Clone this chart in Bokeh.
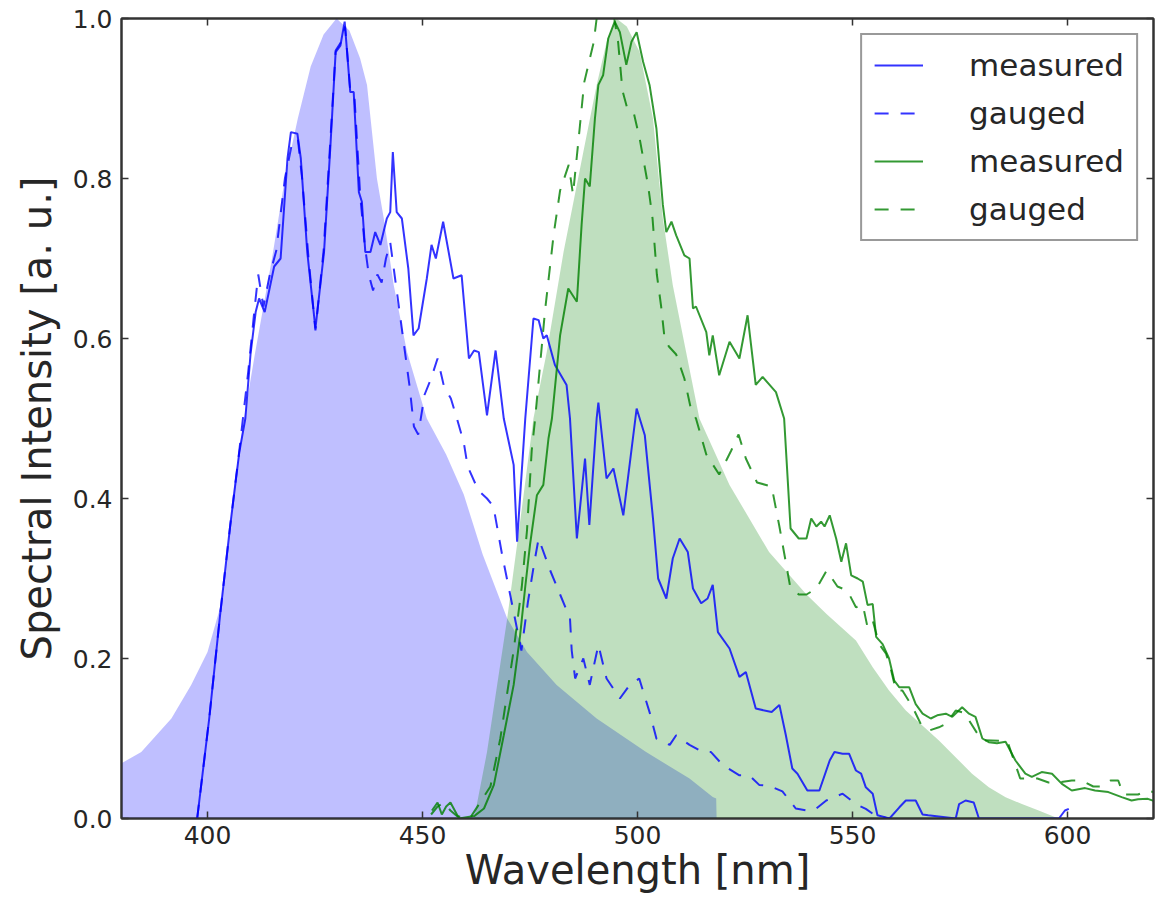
from bokeh.plotting import figure
from bokeh.models import (Range1d, LinearAxis, FixedTicker, Legend, LegendItem,
                          CustomJSTickFormatter)
from bokeh.embed import file_html
from bokeh.resources import INLINE

# ---------------- data ----------------
blue_fill_x = [380, 384.6, 391.6, 396.2, 400, 403.1, 404.7, 406.2, 408.5, 411, 413, 415,
               418, 421, 424, 427, 430, 433, 435.5, 437.1, 439.4, 441, 443.3, 446.4, 451,
               455.5, 459.6, 464, 469.7, 474.3, 481.2, 490.5, 502, 512.1, 517.5, 518.3, 518.4]
blue_fill_y = [0.069, 0.083, 0.125, 0.167, 0.208, 0.267, 0.333, 0.417, 0.5, 0.58, 0.64, 0.7,
               0.8, 0.875, 0.94, 0.98, 1.0, 0.985, 0.95, 0.917, 0.8, 0.75, 0.667, 0.583, 0.5,
               0.455, 0.405, 0.33, 0.25, 0.208, 0.167, 0.125, 0.083, 0.05, 0.027, 0.025, 0.0]

green_fill_x = [462, 465, 469.7, 472.8, 475.8, 478.9, 482.8, 487.4, 490.5, 493, 495.1, 497.5,
                500.5, 503.6, 505.9, 508.2, 511.3, 514.4, 521.4, 530.6, 539.3, 543.9, 550.8,
                554.7, 558.5, 562.4, 570.1, 577.8, 581.7, 585.6, 589.4, 593.3, 597.9]
green_fill_y = [0.0, 0.083, 0.25, 0.375, 0.5, 0.583, 0.708, 0.833, 0.917, 0.975, 1.0, 0.99,
                0.958, 0.875, 0.75, 0.667, 0.583, 0.5, 0.417, 0.333, 0.28, 0.256, 0.2225,
                0.189, 0.16, 0.135, 0.0975, 0.056, 0.039, 0.0267, 0.018, 0.01, 0.0]

blue_meas_x = [397.6, 400.4, 403.0, 405.3, 407.4, 408.8, 410.0, 411.2, 412.0, 413.3, 415.5, 417.0,
               418.6, 419.4, 420.9, 421.7, 423.2, 425.1, 427.1, 428.6, 429.8, 430.9, 431.9, 433.2,
               434.0, 435.2, 435.9, 436.7, 437.9, 439.0, 440.2, 441.7, 442.5, 443.1, 444.0, 445.2,
               446.7, 447.9, 449.1, 451.0, 452.1, 453.1, 454.8, 457.2, 459.1, 460.8, 462.0, 463.1,
               465.0, 467.0, 468.9, 471.2, 472.0, 473.9, 475.8, 477.0, 478.1, 478.9, 480.8, 483.5,
               484.3, 485.9, 487.8, 488.8, 490.5, 490.9, 492.8, 494.4, 496.7, 499.8, 501.7, 503.6,
               504.8, 506.7, 508.2, 509.8, 511.7, 512.9, 514.8, 516.3, 517.5, 518.7, 521.4, 523.7,
               525.2, 527.5, 531.2, 533.0, 534.5, 536.0, 537.2, 539.5, 542.3, 544.7, 545.8, 547.7,
               549.2, 550.8, 552.0, 553.1, 554.7, 555.8, 558.6, 560.9, 562.4, 564.7, 566.3, 567.6,
               574.0, 574.8, 576.3, 578.2, 579.4, 598.0, 599.4, 600.3]
blue_meas_y = [0.0, 0.125, 0.258, 0.367, 0.458, 0.5, 0.58, 0.633, 0.65, 0.633, 0.69, 0.70,
               0.825, 0.858, 0.856, 0.825, 0.708, 0.6125, 0.708, 0.842, 0.958, 0.966, 0.996, 0.908,
               0.908, 0.783, 0.771, 0.708, 0.708, 0.733, 0.717, 0.75, 0.758, 0.833, 0.758, 0.75,
               0.6875, 0.604, 0.6125, 0.675, 0.717, 0.70, 0.746, 0.675, 0.679, 0.575, 0.585, 0.583,
               0.504, 0.585, 0.5, 0.442, 0.346, 0.5, 0.625, 0.623, 0.60, 0.604, 0.567, 0.542,
               0.5, 0.35, 0.45, 0.367, 0.5, 0.52, 0.425, 0.4375, 0.379, 0.5125, 0.479, 0.375,
               0.30, 0.275, 0.325, 0.35, 0.333, 0.2875, 0.269, 0.275, 0.292, 0.233, 0.2125, 0.177,
               0.183, 0.1375, 0.133, 0.142, 0.104, 0.0625, 0.056, 0.035, 0.035, 0.0725, 0.083, 0.081,
               0.081, 0.06, 0.056, 0.039, 0.031, 0.004, 0.0, 0.014, 0.0225, 0.0225, 0.005, 0.004,
               0.0, 0.018, 0.0225, 0.02, 0.0, 0.0, 0.01, 0.012]

blue_gaug_x = [397.6, 400.4, 403.0, 405.3, 407.4, 409.5, 411.0, 411.8, 413.0, 414.5, 416.0, 418.0,
               419.5, 421.0, 422.0, 423.5, 425.1, 427.0, 428.6, 429.8, 431.0, 432.0, 433.2, 434.2,
               435.5, 436.5, 437.5, 438.5, 439.5, 440.5, 441.5, 442.5, 443.5, 444.5, 446.0, 447.0,
               448.0, 449.0, 450.5, 452.0, 453.5, 455.0, 456.6, 458.0, 459.6, 460.5, 463.0, 465.0,
               466.5, 468.5, 470.0, 471.5, 473.0, 474.5, 476.0, 477.0, 479.7, 482.0, 484.3, 484.7,
               485.5, 487.4, 488.9, 490.9, 492.8, 495.9, 498.2, 500.4, 502.8, 504.4, 507.5, 509.0,
               512.1, 515.2, 517.1, 519.8, 523.7, 526.0, 528.3, 530.6, 533.7, 536.8, 539.3, 541.0,
               543.9, 547.7, 550.8, 553.1, 555.5, 558.6]
blue_gaug_y = [0.0, 0.125, 0.258, 0.367, 0.46, 0.56, 0.64, 0.68, 0.64, 0.68, 0.71, 0.80,
               0.84, 0.85, 0.80, 0.70, 0.61, 0.71, 0.85, 0.96, 0.97, 0.99, 0.91, 0.90,
               0.78, 0.72, 0.68, 0.66, 0.68, 0.67, 0.70, 0.72, 0.68, 0.64, 0.58, 0.54,
               0.49, 0.48, 0.53, 0.55, 0.575, 0.54, 0.525, 0.50, 0.47, 0.44, 0.41, 0.40,
               0.39, 0.33, 0.29, 0.25, 0.21, 0.27, 0.32, 0.35, 0.31, 0.28, 0.25, 0.21,
               0.175, 0.20, 0.167, 0.217, 0.175, 0.15, 0.167, 0.175, 0.133, 0.10, 0.092, 0.104,
               0.092, 0.083, 0.083, 0.067, 0.054, 0.054, 0.042, 0.041, 0.034, 0.0125, 0.01, 0.01,
               0.0225, 0.031, 0.018, 0.012, 0.003, 0.0]

green_meas_x = [452.2, 453.5, 454.5, 455.5, 456.5, 457.5, 458.5, 462.0, 464.3, 466.6, 468.9, 471.2,
                472.7, 473.9, 475.0, 476.6, 478.1, 479.3, 480.1, 482.0, 483.9, 485.9, 487.0, 487.8,
                488.9, 490.1, 490.9, 492.0, 493.2, 494.7, 495.9, 497.4, 498.6, 499.8, 501.3, 502.8,
                504.4, 505.9, 506.7, 507.9, 509.0, 510.9, 512.1, 512.9, 513.6, 516.0, 516.7, 517.5,
                519.0, 521.4, 523.7, 525.6, 527.5, 529.1, 532.2, 534.1, 535.6, 537.5, 539.3, 540.4,
                541.6, 542.7, 543.5, 544.7, 546.2, 547.4, 548.5, 549.7, 551.2, 552.4, 553.5, 554.7,
                555.5, 557.0, 558.5, 559.7, 560.9, 563.2, 564.7, 566.3, 568.2, 569.7, 571.7, 573.2,
                575.5, 577.1, 578.6, 580.2, 581.7, 583.6, 585.6, 587.9, 590.2, 591.7, 594.0, 596.4,
                598.7, 601.0, 604.1, 606.4, 609.5, 612.6, 614.9, 616.4, 618.7, 620.0]
green_meas_y = [0.01, 0.02, 0.005, 0.015, 0.02, 0.01, 0.0, 0.003, 0.0125, 0.042, 0.104, 0.167,
                0.229, 0.29, 0.342, 0.404, 0.417, 0.475, 0.5, 0.604, 0.6625, 0.646, 0.742, 0.8,
                0.79, 0.875, 0.917, 0.929, 0.975, 0.996, 0.983, 0.942, 0.971, 0.983, 0.946, 0.917,
                0.8625, 0.767, 0.733, 0.746, 0.729, 0.704, 0.70, 0.6375, 0.64, 0.608, 0.579, 0.604,
                0.554, 0.596, 0.575, 0.629, 0.542, 0.552, 0.533, 0.50, 0.3625, 0.35, 0.35, 0.375,
                0.365, 0.371, 0.365, 0.379, 0.35, 0.321, 0.344, 0.304, 0.30, 0.296, 0.267, 0.268,
                0.227, 0.218, 0.2, 0.1725, 0.164, 0.164, 0.143, 0.131, 0.125, 0.129, 0.131, 0.127,
                0.139, 0.131, 0.127, 0.10, 0.0954, 0.094, 0.096, 0.0725, 0.056, 0.052, 0.058, 0.056,
                0.0433, 0.035, 0.038, 0.035, 0.033, 0.0267, 0.0225, 0.024, 0.0246, 0.022]

green_gaug_x = [452.0, 453.5, 455.0, 456.5, 458.0, 461.0, 465.8, 468.1, 471.2, 473.1, 474.3, 475.4,
                476.2, 478.5, 480.5, 482.0, 484.0, 485.0, 486.5, 487.6, 489.8, 490.5, 492.0, 494.0,
                495.5, 496.5, 497.5, 499.0, 500.5, 501.5, 502.5, 503.5, 504.5, 505.5, 506.3, 507.3,
                509.0, 510.9, 512.5, 513.6, 516.0, 519.0, 521.8, 523.5, 525.2, 527.8, 531.2, 533.0,
                534.5, 535.5, 537.5, 539.3, 541.6, 544.0, 546.5, 548.8, 550.8, 552.4, 553.5, 554.7,
                556.2, 557.8, 559.0, 560.1, 561.6, 564.0, 565.9, 567.8, 570.1, 571.7, 574.0, 576.0,
                580.0, 586.0, 589.0, 593.0, 595.6, 597.9, 601.0, 603.3, 606.0, 608.0, 610.0, 611.8,
                613.0, 616.4, 618.7, 620.0]
green_gaug_y = [0.005, 0.015, 0.02, 0.01, 0.003, 0.0, 0.04, 0.1, 0.21, 0.29, 0.36, 0.46,
                0.5, 0.635, 0.73, 0.785, 0.817, 0.78, 0.86, 0.92, 0.97, 1.0, 1.02, 1.02,
                0.97, 0.91, 0.89, 0.885, 0.85, 0.82, 0.79, 0.75, 0.68, 0.64, 0.60, 0.59,
                0.58, 0.55, 0.51, 0.50, 0.455, 0.43, 0.46, 0.48, 0.45, 0.42, 0.415, 0.365,
                0.32, 0.29, 0.28, 0.28, 0.2875, 0.31, 0.29, 0.285, 0.264, 0.267, 0.239, 0.2475,
                0.218, 0.206, 0.185, 0.16, 0.16, 0.139, 0.118, 0.11, 0.114, 0.118, 0.135, 0.132,
                0.098, 0.097, 0.05, 0.05, 0.045, 0.045, 0.0475, 0.0475, 0.04, 0.04, 0.0475, 0.0475,
                0.03, 0.03, 0.035, 0.033]

x_ticks = [400, 450, 500, 550, 600]
y_ticks = [0.0, 0.2, 0.4, 0.6, 0.8, 1.0]
x_label = "Wavelength [nm]"
y_label = "Spectral Intensity [a. u.]"
legend_labels = ["measured", "gauged", "measured", "gauged"]

# ---------------- figure ----------------
FONT = "DejaVu Sans"
TXT = "#262626"
AX = "#333333"

p = figure(width=1157, height=898, output_backend="svg", toolbar_location=None,
           x_range=Range1d(380, 620), y_range=Range1d(0, 1),
           min_border_left=121, min_border_right=4, min_border_top=18, min_border_bottom=80)
p.background_fill_color = "white"
p.border_fill_color = "white"
p.outline_line_color = AX
p.outline_line_width = 2
p.xgrid.visible = False
p.ygrid.visible = False

BLUE = "#0000ff"
GREEN = "#008000"

p.varea(x=blue_fill_x, y1=0, y2=blue_fill_y, fill_color=BLUE, fill_alpha=0.25)
p.varea(x=green_fill_x, y1=0, y2=green_fill_y, fill_color=GREEN, fill_alpha=0.25)

r1 = p.line(blue_meas_x, blue_meas_y, line_color=BLUE, line_width=2, line_alpha=0.8)
r2 = p.line(blue_gaug_x, blue_gaug_y, line_color=BLUE, line_width=2, line_alpha=0.8,
            line_dash="14 12")
r3 = p.line(green_meas_x, green_meas_y, line_color=GREEN, line_width=2, line_alpha=0.8)
r4 = p.line(green_gaug_x, green_gaug_y, line_color=GREEN, line_width=2, line_alpha=0.8,
            line_dash="14 12")

fmt = CustomJSTickFormatter(code="return tick.toFixed(1);")

def style_axis(ax, labels=True):
    ax.axis_line_color = AX
    ax.axis_line_width = 2
    ax.major_tick_line_color = AX
    ax.major_tick_line_width = 1.5
    ax.major_tick_in = 7
    ax.major_tick_out = 0
    ax.minor_tick_in = 0
    ax.minor_tick_out = 0
    ax.major_label_text_font = FONT
    ax.major_label_text_color = TXT
    ax.major_label_text_font_size = "25px"
    ax.axis_label_text_font = FONT
    ax.axis_label_text_color = TXT
    ax.axis_label_text_font_size = "40px"
    ax.axis_label_text_font_style = "normal"
    if not labels:
        ax.major_label_text_font_size = "1px"
        ax.major_label_text_alpha = 0
        ax.major_label_standoff = 0

xa = p.xaxis[0]
xa.ticker = FixedTicker(ticks=x_ticks)
style_axis(xa)
xa.major_label_standoff = 7
xa.axis_label = x_label
xa.axis_label_standoff = 0

ya = p.yaxis[0]
ya.ticker = FixedTicker(ticks=y_ticks)
ya.formatter = fmt
style_axis(ya)
ya.major_label_standoff = 9
ya.axis_label = y_label
ya.axis_label_standoff = 10

top = LinearAxis(ticker=FixedTicker(ticks=x_ticks))
style_axis(top, labels=False)
p.add_layout(top, "above")
right = LinearAxis(ticker=FixedTicker(ticks=y_ticks))
style_axis(right, labels=False)
p.add_layout(right, "right")

legend = Legend(items=[
    LegendItem(label=legend_labels[0], renderers=[r1]),
    LegendItem(label=legend_labels[1], renderers=[r2]),
    LegendItem(label=legend_labels[2], renderers=[r3]),
    LegendItem(label=legend_labels[3], renderers=[r4]),
], location="top_right")
legend.margin = 15
legend.padding = 12
legend.spacing = 12
legend.glyph_width = 49
legend.glyph_height = 36
legend.label_height = 36
legend.label_standoff = 46
legend.label_text_font = FONT
legend.label_text_font_size = "31px"
legend.label_text_color = TXT
legend.border_line_color = AX
legend.border_line_width = 2
legend.background_fill_color = "white"
legend.background_fill_alpha = 1
p.add_layout(legend)

open("out.html", "w").write(file_html(p, INLINE))
